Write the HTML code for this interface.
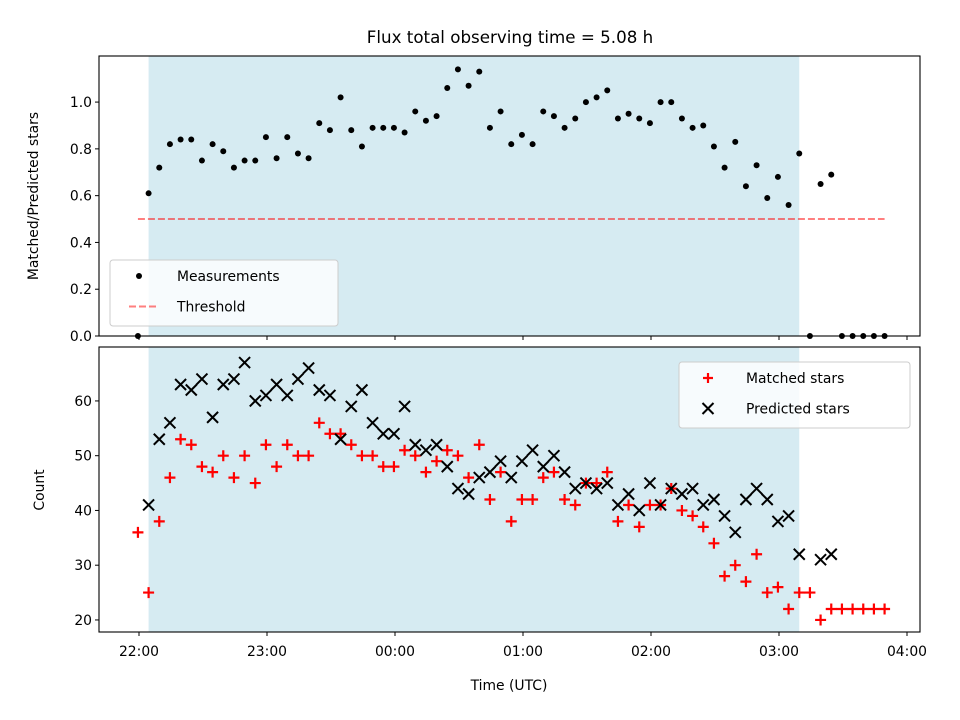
<!DOCTYPE html>
<html><head><meta charset="utf-8">
<style>
body{margin:0;background:#fff;}
svg{display:block;font-family:"DejaVu Sans","Liberation Sans",sans-serif;}
</style></head>
<body>
<svg id="chart" width="960" height="720" viewBox="0 0 960 720" xmlns="http://www.w3.org/2000/svg">
<text x="510" y="43" font-size="16.7" text-anchor="middle">Flux total observing time = 5.08 h</text>
<g id="topPanel"></g>
<g id="botPanel"></g>
<text x="509" y="690" font-size="13.9" text-anchor="middle">Time (UTC)</text>
<text transform="translate(38,196) rotate(-90)" font-size="13.9" text-anchor="middle">Matched/Predicted stars</text>
<text transform="translate(44,490) rotate(-90)" font-size="13.9" text-anchor="middle">Count</text>
</svg>
<script>
// minutes after 22:00 for sample i: startMin + i*stepMin
const startMin = -0.5, stepMin = 5;
const ratioValues = [0,0.61,0.72,0.82,0.84,0.84,0.75,0.82,0.79,0.72,0.75,0.75,0.85,0.76,0.85,0.78,0.76,0.91,0.88,1.02,0.88,0.81,0.89,0.89,0.89,0.87,0.96,0.92,0.94,1.06,1.14,1.07,1.13,0.89,0.96,0.82,0.86,0.82,0.96,0.94,0.89,0.93,1.00,1.02,1.05,0.93,0.95,0.93,0.91,1.00,1.00,0.93,0.89,0.90,0.81,0.72,0.83,0.64,0.73,0.59,0.68,0.56,0.78,0,0.65,0.69,0,0,0,0,0];
const matchedValues = [36,25,38,46,53,52,48,47,50,46,50,45,52,48,52,50,50,56,54,54,52,50,50,48,48,51,50,47,49,51,50,46,52,42,47,38,42,42,46,47,42,41,45,45,47,38,41,37,41,41,44,40,39,37,34,28,30,27,32,25,26,22,25,25,20,22,22,22,22,22,22];
const predictedValues = [null,41,53,56,63,62,64,57,63,64,67,60,61,63,61,64,66,62,61,53,59,62,56,54,54,59,52,51,52,48,44,43,46,47,49,46,49,51,48,50,47,44,45,44,45,41,43,40,45,41,44,43,44,41,42,39,36,42,44,42,38,39,32,null,31,32,null,null,null,null,null];
const threshold = 0.5;
const shadeStartIdx = 1, shadeEndIdx = 62;
const xTickMinutes = [0,60,120,180,240,300,360];
const xTickLabels = ["22:00","23:00","00:00","01:00","02:00","03:00","04:00"];
const topTicks = [0,0.2,0.4,0.6,0.8,1.0];
const topTickLabels = ["0.0","0.2","0.4","0.6","0.8","1.0"];
const botTicks = [20,30,40,50,60];
const botTickLabels = ["20","30","40","50","60"];

const NS="http://www.w3.org/2000/svg";
const L=99,R=920;
const xMin=-18.75,xMax=366.1;
const X=m=>L+(m-xMin)/(xMax-xMin)*(R-L);
const tOf=i=>startMin+i*stepMin;
const T={top:56,bot:336,min:0,max:1.197};
const B={top:347,bot:632,min:17.8,max:69.85};
const Yt=v=>T.bot-(v-T.min)/(T.max-T.min)*(T.bot-T.top);
const Yb=v=>B.bot-(v-B.min)/(B.max-B.min)*(B.bot-B.top);
function mk(p,tag,a){const e=document.createElementNS(NS,tag);for(const k in a)e.setAttribute(k,a[k]);p.appendChild(e);return e;}

function frame(g,P,Y,ticks,labels,showLabels,name){
  const s=mk(g,'rect',{x:X(tOf(shadeStartIdx)),y:P.top,width:X(tOf(shadeEndIdx))-X(tOf(shadeStartIdx)),height:P.bot-P.top,fill:'#add8e6','fill-opacity':0.5});
  
  
  ticks.forEach((v,k)=>{
    mk(g,'line',{x1:L-4,x2:L,y1:Y(v),y2:Y(v),stroke:'#000','stroke-width':1});
    const t=mk(g,'text',{x:L-7,y:Y(v)+5,'font-size':13.9,'text-anchor':'end'});
    t.textContent=labels[k];
    
    
  });
  xTickMinutes.forEach((m,k)=>{
    mk(g,'line',{x1:X(m),x2:X(m),y1:P.bot,y2:P.bot+4,stroke:'#000','stroke-width':1});
    if(showLabels){
      const t=mk(g,'text',{x:X(m),y:P.bot+24,'font-size':13.9,'text-anchor':'middle'});
      t.textContent=xTickLabels[k];
      
      
    }
  });
}
const topG=document.getElementById('topPanel'),botG=document.getElementById('botPanel');
frame(topG,T,Yt,topTicks,topTickLabels,false,'top');
frame(botG,B,Yb,botTicks,botTickLabels,true,'bottom');

const th=mk(topG,'line',{x1:X(tOf(0)),x2:X(tOf(ratioValues.length-1)),y1:Yt(threshold),y2:Yt(threshold),stroke:'#ff0000','stroke-opacity':0.5,'stroke-width':2,'stroke-dasharray':'7,3'});


ratioValues.forEach((v,i)=>{
  const c=mk(topG,'circle',{cx:X(tOf(i)),cy:Yt(v),r:3,fill:'#000'});
  
  
});
matchedValues.forEach((v,i)=>{
  if(v==null)return;
  const x=X(tOf(i)),y=Yb(v);
  const p=mk(botG,'path',{d:`M${x-5.5},${y}H${x+5.5}M${x},${y-5.5}V${y+5.5}`,stroke:'#ff0000','stroke-width':2.2});
  
  
});
predictedValues.forEach((v,i)=>{
  if(v==null)return;
  const x=X(tOf(i)),y=Yb(v),d=5.5;
  const p=mk(botG,'path',{d:`M${x-d},${y-d}L${x+d},${y+d}M${x-d},${y+d}L${x+d},${y-d}`,stroke:'#000','stroke-width':2});
  
  
});
[[topG,T],[botG,B]].forEach(([g,P])=>{
  const r=mk(g,'rect',{x:L,y:P.top,width:R-L,height:P.bot-P.top,fill:'none',stroke:'#000','stroke-width':1.1});
  
  
});
function legend(g,x,y,w,h,items,name){
  const lg=mk(g,'g',{});
  
  
  mk(lg,'rect',{x:x,y:y,width:w,height:h,rx:3,fill:'#fff','fill-opacity':0.8,stroke:'#ccc','stroke-width':1});
  items.forEach((it,k)=>{
    const cy=y+16+k*30.5;
    it.draw(lg,x+29,cy);
    const t=mk(lg,'text',{x:x+67,y:cy+5,'font-size':13.9});
    t.textContent=it.label;
    
    
  });
}
legend(topG,110,260,228,66,[
 {label:'Measurements',draw:(g,x,y)=>mk(g,'circle',{cx:x,cy:y,r:3,fill:'#000'})},
 {label:'Threshold',draw:(g,x,y)=>mk(g,'line',{x1:x-10,x2:x+20,y1:y,y2:y,stroke:'#ff0000','stroke-opacity':0.5,'stroke-width':2,'stroke-dasharray':'7,3'})}
],'top-legend');
legend(botG,679,362,231,66,[
 {label:'Matched stars',draw:(g,x,y)=>mk(g,'path',{d:`M${x-5},${y}H${x+5}M${x},${y-5}V${y+5}`,stroke:'#ff0000','stroke-width':2.2})},
 {label:'Predicted stars',draw:(g,x,y)=>mk(g,'path',{d:`M${x-5.5},${y-5.5}L${x+5.5},${y+5.5}M${x-5.5},${y+5.5}L${x+5.5},${y-5.5}`,stroke:'#000','stroke-width':2})}
],'bottom-legend');
</script>
</body></html>
